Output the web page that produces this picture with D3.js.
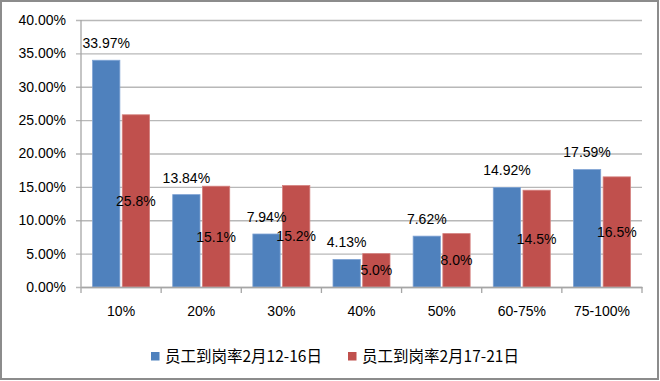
<!DOCTYPE html>
<html><head><meta charset="utf-8">
<script src="https://cdn.jsdelivr.net/npm/d3@7/dist/d3.min.js"></script>
<style>body{margin:0;background:#fff}svg{display:block}</style>
</head><body><svg id="c" width="660" height="381"></svg>
<script>
const categories = ["10%","20%","30%","40%","50%","60-75%","75-100%"];
const seriesNames = ["员工到岗率2月12-16日","员工到岗率2月17-21日"];
const series1 = [33.97,13.84,7.94,4.13,7.62,14.92,17.59];
const series2 = [25.8,15.1,15.2,5.0,8.0,14.5,16.5];
const labels1 = ["33.97%","13.84%","7.94%","4.13%","7.62%","14.92%","17.59%"];
const labels2 = ["25.8%","15.1%","15.2%","5.0%","8.0%","14.5%","16.5%"];
const yTicks = [0,5,10,15,20,25,30,35,40];
const colors = ["#4F81BD","#C0504D"];

(function(){
const svg = d3.select("#c");
const font = "'Liberation Sans', Arial, sans-serif";
const pl = 81, pr = 642, pt = 20, pb = 287;

svg.append("rect").attr("x",1).attr("y",1).attr("width",657).attr("height",378)
  .attr("fill","#fff").attr("stroke","#8c8c8c").attr("stroke-width",2);

const x = d3.scaleBand().domain(categories).range([pl,pr]).paddingInner(0).paddingOuter(0);
const y = d3.scaleLinear().domain([0,40]).range([pb,pt]);
const bw = 27.3, gap = 2.4;
const groupW = 2*bw+gap;
const off = (x.bandwidth()-groupW)/2;

const yAxis = d3.axisLeft(y).tickValues(yTicks).tickSize(-(pr-pl)).tickFormat(d=>d.toFixed(2)+"%").tickPadding(14);
const ya = svg.append("g").attr("transform",`translate(${pl},0)`).call(yAxis);
ya.select(".domain").remove();
ya.selectAll(".tick line").attr("stroke","#b8b8b8").attr("x1",-5).attr("stroke-width",1.3);
ya.selectAll(".tick text").attr("font-family",font).attr("font-size",14).attr("fill","#000").attr("x",-15);

svg.append("line").attr("x1",pl).attr("x2",pl).attr("y1",pt).attr("y2",pb).attr("stroke","#a6a6a6").attr("stroke-width",1.3);

const g = svg.append("g");
[series1,series2].forEach((s,si)=>{
  g.selectAll(null).data(s).enter().append("rect")
    .attr("x",(d,i)=>x(categories[i])+off+si*(bw+gap))
    .attr("y",d=>y(d))
    .attr("width",bw)
    .attr("height",d=>y(0)-y(d))
    .attr("fill",colors[si])
    .attr("stroke", si===0?"#7fa3d4":"#d4807e").attr("stroke-width",0.8);
});

const xAxis = d3.axisBottom(x).tickSize(0).tickPadding(19);
const xa = svg.append("g").attr("transform",`translate(0,${pb})`).call(xAxis);
xa.select(".domain").attr("stroke","#a6a6a6").attr("stroke-width",1.3);
xa.selectAll(".tick text").attr("font-family",font).attr("font-size",14).attr("fill","#000");
const tickPos = categories.map(c=>x(c)).concat([pr]);
svg.append("g").selectAll("line").data(tickPos).enter().append("line")
  .attr("x1",d=>d).attr("x2",d=>d).attr("y1",pb).attr("y2",pb+6)
  .attr("stroke","#a6a6a6").attr("stroke-width",1.3);

svg.append("g").selectAll("text").data(series1).enter().append("text")
  .attr("x",(d,i)=>x(categories[i])+off+bw/2)
  .attr("y",d=>y(d)-17)
  .attr("dy","0.35em").attr("text-anchor","middle")
  .attr("font-family",font).attr("font-size",14).attr("fill","#000")
  .text((d,i)=>labels1[i]);
svg.append("g").selectAll("text").data(series2).enter().append("text")
  .attr("x",(d,i)=>x(categories[i])+off+bw+gap+bw/2)
  .attr("y",d=>(y(d)+y(0))/2)
  .attr("dy","0.35em").attr("text-anchor","middle")
  .attr("font-family",font).attr("font-size",14).attr("fill","#000")
  .text((d,i)=>labels2[i]);

const legX = [151,348];
const lg = svg.append("g");
seriesNames.forEach((n,i)=>{
  lg.append("rect").attr("x",legX[i]).attr("y",352).attr("width",8.5).attr("height",8.5).attr("fill",colors[i]);
  lg.append("text").attr("x",legX[i]+14).attr("y",357).attr("dy","0.35em")
    .attr("font-family","'Noto Sans CJK SC', sans-serif").attr("font-size",15.5).attr("fill","#000").text(n);
});
})();
</script></body></html>
